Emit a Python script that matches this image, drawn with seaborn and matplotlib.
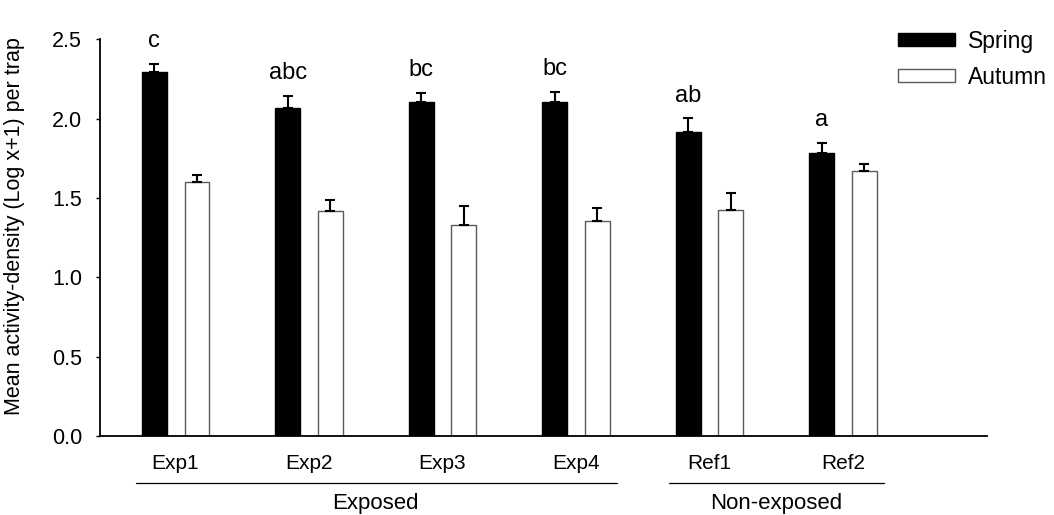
import matplotlib
matplotlib.use("Agg")
import matplotlib.pyplot as plt
import matplotlib.transforms as mtransforms
from matplotlib.patches import Patch
import seaborn as sns
import pandas as pd

sites = ["Exp1", "Exp2", "Exp3", "Exp4", "Ref1", "Ref2"]
seasons = ["Spring", "Autumn"]
spring = [2.297, 2.070, 2.108, 2.108, 1.917, 1.786]
spring_err = [0.050, 0.072, 0.053, 0.063, 0.086, 0.061]
autumn = [1.600, 1.420, 1.330, 1.356, 1.425, 1.671]
autumn_err = [0.046, 0.066, 0.122, 0.084, 0.105, 0.044]
letters = ["c", "abc", "bc", "bc", "ab", "a"]
groups = [("Exposed", 0, 3), ("Non-exposed", 4, 5)]

df = pd.DataFrame({
    "site": sites * 2,
    "season": ["Spring"] * len(sites) + ["Autumn"] * len(sites),
    "value": spring + autumn,
})

sns.set_style("white")
plt.rcParams["font.family"] = ["Liberation Sans", "DejaVu Sans"]
plt.rcParams["text.color"] = "black"
plt.rcParams["axes.labelcolor"] = "black"
plt.rcParams["xtick.color"] = "black"
plt.rcParams["ytick.color"] = "black"

fig = plt.figure(figsize=(10.54, 5.15), dpi=100)
ax = fig.add_axes([100 / 1054, 1 - 436 / 515, 887 / 1054, (436 - 39.3) / 515])

sns.barplot(data=df, x="site", y="value", hue="season", order=sites,
            hue_order=seasons, palette={"Spring": "black", "Autumn": "white"},
            width=0.64, gap=0.42, errorbar=None, edgecolor="black",
            linewidth=1.0, ax=ax, legend=False)

for bar in ax.containers[1]:
    bar.set_edgecolor("#5a5a5a")

for cont, vals, errs in zip(ax.containers, [spring, autumn], [spring_err, autumn_err]):
    xs = [b.get_x() + b.get_width() / 2 for b in cont]
    ax.errorbar(xs, vals, yerr=[[0] * len(vals), errs], fmt="none",
                ecolor="black", elinewidth=1.5, capsize=3.6, capthick=1.5, zorder=1)

xs_spring = [b.get_x() + b.get_width() / 2 for b in ax.containers[0]]
for x, v, e, t in zip(xs_spring, spring, spring_err, letters):
    ax.text(x, v + e + 0.105, t, ha="center", va="baseline", fontsize=17, color="black")

ax.set_ylim(0, 2.5)
ax.set_xlim(-0.566, 6.079)
ax.set_yticks([0, 0.5, 1.0, 1.5, 2.0, 2.5])
ax.set_yticklabels(["0.0", "0.5", "1.0", "1.5", "2.0", "2.5"])
ax.set_xlabel("")
ax.set_ylabel("Mean activity-density (Log x+1) per trap", fontsize=15.5, color="black")
ax.yaxis.set_label_coords(-0.085, 0.53)

for s in ["top", "right"]:
    ax.spines[s].set_visible(False)
for s in ["left", "bottom"]:
    ax.spines[s].set_color("black")
    ax.spines[s].set_linewidth(1.3)

ax.tick_params(axis="y", direction="out", length=3, width=1, pad=10, labelsize=15.5,
               left=True, colors="black")
ax.tick_params(axis="x", length=0, pad=13, labelsize=15, colors="black")

trans = mtransforms.blended_transform_factory(ax.transData, ax.transAxes)
for name, i0, i1 in groups:
    ax.plot([i0 - 0.3, i1 + 0.31], [-0.119, -0.119], color="black", lw=0.9,
            transform=trans, clip_on=False)
    ax.text((i0 + i1) / 2, -0.17, name, ha="center", va="center",
            fontsize=16, color="black", transform=trans)

handles = [Patch(facecolor="black", edgecolor="black"),
           Patch(facecolor="white", edgecolor="#5a5a5a")]
fig.legend(handles, seasons, loc="upper left", bbox_to_anchor=(898 / 1054, 1 - 30 / 515),
           bbox_transform=fig.transFigure, frameon=False, fontsize=16.5,
           handlelength=2.49, handleheight=0.48, handletextpad=0.55,
           labelspacing=0.55, borderpad=0, borderaxespad=0, labelcolor="black")

fig.savefig("out.png", dpi=100)
